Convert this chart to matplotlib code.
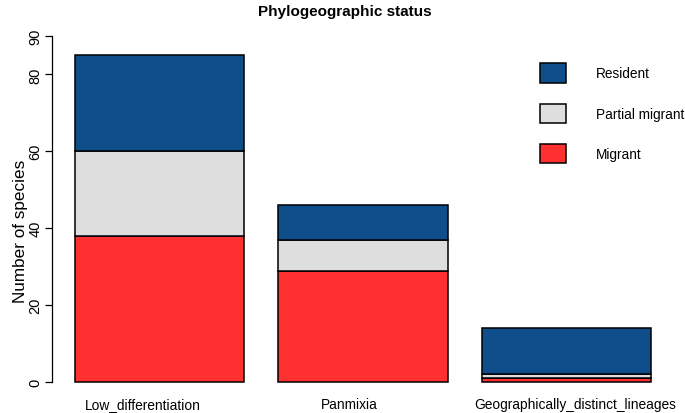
import numpy as np
import matplotlib.pyplot as plt

plt.rcParams['font.family'] = ['Liberation Sans', 'DejaVu Sans']

categories = ['Low_differentiation', 'Panmixia', 'Geographically_distinct_lineages']
migrant = [38, 29, 1]
partial = [22, 8, 1]
resident = [25, 9, 12]
series = ['Resident', 'Partial migrant', 'Migrant']
colors = {'Resident': '#104E8B', 'Partial migrant': '#DEDEDE', 'Migrant': '#FF3030'}

fig = plt.figure(figsize=(6.85, 4.14), dpi=100)
ax = fig.add_axes([52 / 685, 17 / 414, 622 / 685, 374 / 414])

# R-style barplot positions: width 1, space 0.2
x = 0.2 + np.arange(len(categories)) * 1.2 + 0.5
bottom = np.zeros(len(categories))
handles = {}
for name, vals in [('Migrant', migrant), ('Partial migrant', partial), ('Resident', resident)]:
    b = ax.bar(x, vals, width=1.0, bottom=bottom, color=colors[name],
               edgecolor='black', linewidth=1.1)
    handles[name] = b
    bottom += np.array(vals)

ax.set_xlim(0.064, 3.736)
ax.set_ylim(-3.6, 93.6)
for s in ['top', 'right', 'bottom']:
    ax.spines[s].set_visible(False)
ax.spines['left'].set_bounds(0, 90)
ax.spines['left'].set_linewidth(0.9)
ax.set_yticks([0, 20, 40, 60, 80, 90])
ax.tick_params(axis='y', direction='out', length=5, width=0.9, labelsize=10.5, pad=2)
for lab in ax.get_yticklabels():
    lab.set_rotation(90)
    lab.set_va('center')

# category labels sit a bit off the bar centres, as in the original
label_shift = [-0.10, -0.08, 0.05]
ax.set_xticks(x + np.array(label_shift))
ax.set_xticklabels(categories, fontsize=9.9)
ax.tick_params(axis='x', length=0, pad=1)
ax.set_ylabel('Number of species', fontsize=12.3)
ax.yaxis.set_label_coords(-0.0386, 0.444)

fig.text(345 / 685, 1 - 12 / 414, 'Phylogeographic status', ha='center', va='center',
         fontsize=11, fontweight='bold')

ax.legend([handles[n] for n in series], series, loc='upper left',
          bbox_to_anchor=(528 / 685, 1 - 52 / 414), bbox_transform=fig.transFigure,
          frameon=False, fontsize=9.8, handlelength=1.9, handleheight=1.8,
          labelspacing=1.56, handletextpad=2.2)

fig.savefig('out.png', dpi=100)
